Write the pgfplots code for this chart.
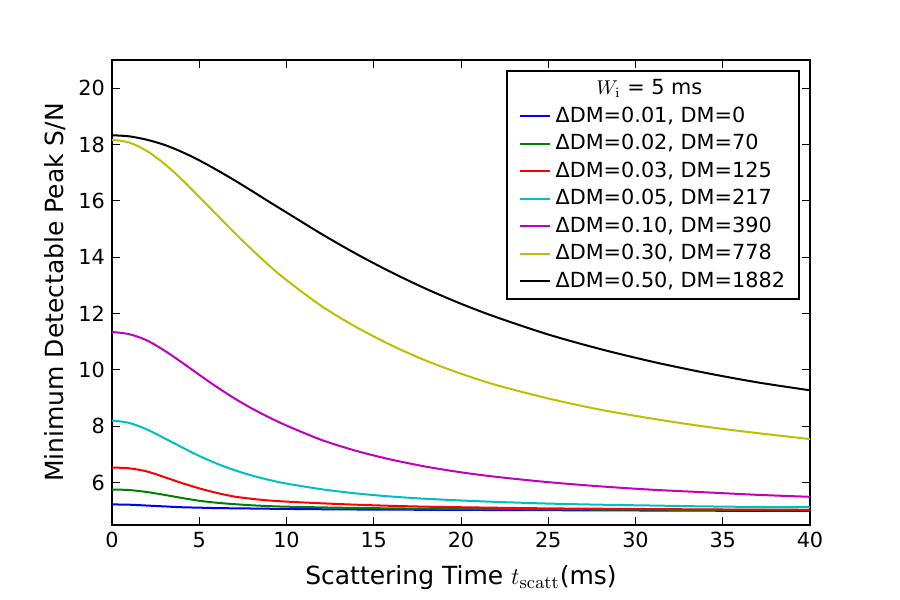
\documentclass[border=0pt]{standalone}
\usepackage[no-math]{fontspec}
\setmainfont{DejaVu Sans}
\usepackage{pgfplots}
\pgfplotsset{compat=1.18}
\definecolor{mb}{rgb}{0,0,1}
\definecolor{mg}{rgb}{0,0.5,0}
\definecolor{mr}{rgb}{1,0,0}
\definecolor{mc}{rgb}{0,0.75,0.75}
\definecolor{mm}{rgb}{0.75,0,0.75}
\definecolor{my}{rgb}{0.75,0.75,0}
\newlength\legw
\begin{document}
\begin{tikzpicture}
\useasboundingbox (-56pt,-37.5pt) rectangle (394pt,262.5pt);
\begin{axis}[
  at={(0,0)}, anchor=south west,
  scale only axis, width=349pt, height=232.5pt,
  xmin=0, xmax=40, ymin=4.5, ymax=21,
  xtick={0,5,...,40}, ytick={6,8,...,20},
  axis line style={line width=1pt},
  major tick style={line width=0.5pt, black},
  major tick length=4pt,
  tick align=inside,
  /pgf/number format/assume math mode=true,
  ticklabel style={font=\fontsize{10.4}{12}\selectfont},
  xlabel={Scattering Time $t_{\mathrm{scatt}}$(ms)},
  ylabel={Minimum Detectable Peak S/N},
  label style={font=\fontsize{12.5}{15}\selectfont},
  xlabel style={at={(axis description cs:0.5,-0.114)}, anchor=center},
  ylabel style={at={(axis description cs:-0.0817,0.5)}, anchor=center},
  legend cell align=left,
  legend image code/.code={\draw[#1, line width=1pt] (0pt,0pt) -- (15pt,0pt);},
  legend style={at={(0.9857,0.9785)}, anchor=north east, draw=black, line width=1pt,
    font=\fontsize{10.4}{12}\selectfont, inner xsep=6pt, inner ysep=3pt,
    row sep=1.75pt,
    /tikz/every odd column/.append style={column sep=1.5pt},
    nodes={inner sep=1pt, text height=8pt, text depth=2pt}},
  every axis plot/.append style={line width=1pt, smooth},
]
\addlegendimage{empty legend}
\addlegendentry{\settowidth\legw{ΔDM=0.50, DM=1882}\makebox[\legw][c]{\hspace*{-21pt}$W_{\mathrm{i}}$ = 5 ms}}

\addplot[mb] coordinates {(0,5.23)(1,5.22)(2,5.19)(3,5.16)(4,5.13)(5,5.115)(6,5.10)(8,5.085)(10,5.07)(14,5.05)(20,5.035)(25,5.025)(30,5.015)(35,5.005)(40,5.0)};
\addlegendentry{ΔDM=0.01, DM=0}
\addplot[mg] coordinates {(0,5.76)(1,5.74)(2,5.67)(3,5.57)(4,5.46)(5,5.36)(6,5.29)(7,5.24)(8,5.20)(9,5.17)(10,5.15)(12,5.125)(14,5.105)(16,5.09)(18,5.08)(20,5.07)(25,5.055)(30,5.045)(35,5.035)(40,5.03)};
\addlegendentry{ΔDM=0.02, DM=70}
\addplot[mr] coordinates {(0,6.54)(1,6.51)(2,6.40)(3,6.20)(4,5.99)(5,5.80)(6,5.64)(7,5.51)(8,5.43)(9,5.37)(10,5.33)(12,5.27)(14,5.22)(16,5.18)(18,5.15)(20,5.13)(25,5.09)(30,5.07)(35,5.05)(40,5.04)};
\addlegendentry{ΔDM=0.03, DM=125}
\addplot[mc] coordinates {(0,8.21)(1,8.12)(2,7.89)(3,7.58)(4,7.26)(5,6.95)(6,6.68)(7,6.45)(8,6.26)(9,6.10)(10,5.97)(12,5.77)(14,5.62)(16,5.51)(18,5.43)(20,5.37)(22,5.32)(25,5.26)(28,5.22)(31,5.19)(34,5.16)(37,5.14)(40,5.13)};
\addlegendentry{ΔDM=0.05, DM=217}
\addplot[mm] coordinates {(0,11.35)(1,11.27)(2,11.05)(3,10.69)(4,10.27)(5,9.83)(6,9.40)(7,9.00)(8,8.64)(9,8.32)(10,8.03)(12,7.52)(14,7.13)(16,6.82)(18,6.57)(20,6.37)(22,6.21)(25,6.02)(28,5.87)(31,5.75)(34,5.66)(37,5.57)(40,5.50)};
\addlegendentry{ΔDM=0.10, DM=390}
\addplot[my] coordinates {(0,18.17)(1,18.07)(2,17.77)(3,17.32)(4,16.76)(5,16.14)(6,15.51)(7,14.88)(8,14.28)(9,13.71)(10,13.19)(12,12.27)(14,11.52)(16,10.88)(18,10.33)(20,9.87)(22,9.47)(25,8.99)(28,8.59)(31,8.27)(34,7.99)(37,7.76)(40,7.55)};
\addlegendentry{ΔDM=0.30, DM=778}
\addplot[black] coordinates {(0,18.33)(1,18.29)(2,18.17)(3,17.99)(4,17.74)(5,17.44)(6,17.10)(7,16.74)(8,16.36)(9,15.97)(10,15.59)(12,14.83)(14,14.12)(16,13.47)(18,12.88)(20,12.35)(22,11.88)(25,11.26)(28,10.74)(31,10.29)(34,9.90)(37,9.56)(40,9.28)};
\addlegendentry{ΔDM=0.50, DM=1882}
\end{axis}
\end{tikzpicture}
\end{document}
